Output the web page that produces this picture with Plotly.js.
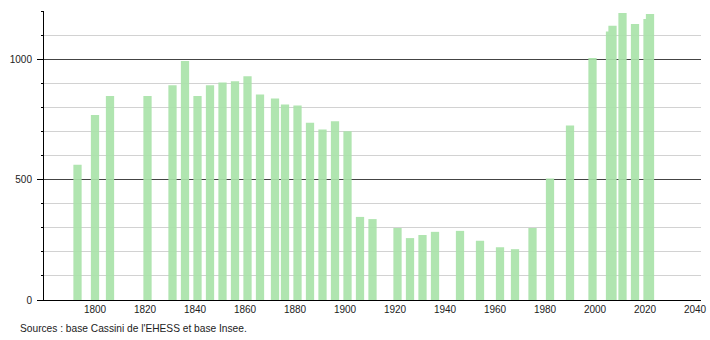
<!DOCTYPE html>
<html>
<head>
<meta charset="utf-8">
<script src="https://cdn.plot.ly/plotly-3.0.1.min.js"></script>
<style>html,body{margin:0;padding:0;background:#fff;}#chart{width:710px;height:340px;}</style>
</head>
<body>
<div id="chart"></div>
<script>
const years = [1793, 1800, 1806, 1821, 1831, 1836, 1841, 1846, 1851, 1856, 1861, 1866, 1872, 1876, 1881, 1886, 1891, 1896, 1901, 1906, 1911, 1921, 1926, 1931, 1936, 1946, 1954, 1962, 1968, 1975, 1982, 1990, 1999, 2006, 2007, 2011, 2016, 2021, 2022];
const population = [562, 768, 847, 847, 892, 992, 847, 892, 903, 908, 929, 853, 837, 812, 808, 736, 708, 742, 701, 345, 336, 299, 257, 270, 283, 287, 246, 219, 211, 299, 504, 725, 1005, 1115, 1139, 1192, 1146, 1167, 1188];
const xTicks = [1800, 1820, 1840, 1860, 1880, 1900, 1920, 1940, 1960, 1980, 2000, 2020, 2040];
const yMajorTicks = [0, 500, 1000];
const sourceText = "Sources : base Cassini de l'EHESS et base Insee.";

const trace = {
  type: 'bar',
  x: years,
  y: population,
  width: 3.3,
  marker: {color: 'rgb(170,227,170)', line: {width: 0}},
  opacity: 0.92,
  hoverinfo: 'x+y'
};

const layout = {
  width: 710,
  height: 340,
  margin: {l: 44, r: 9, t: 11, b: 40},
  paper_bgcolor: '#fff',
  plot_bgcolor: '#fff',
  showlegend: false,
  font: {family: '"Liberation Sans", Arial, sans-serif', size: 10, color: '#222'},
  xaxis: {
    range: [1779.6, 2042.4],
    tickvals: xTicks,
    ticks: '',
    showgrid: false,
    zeroline: false,
    showline: true,
    linecolor: '#000',
    linewidth: 1,
    tickfont: {size: 10, color: '#222'}
  },
  yaxis: {
    range: [0, 1200],
    tickvals: yMajorTicks,
    ticks: 'outside',
    ticklen: 6,
    tickcolor: '#000',
    tickwidth: 1,
    ticklabelstandoff: 3,
    showgrid: true,
    gridcolor: '#444',
    gridwidth: 1,
    zeroline: false,
    showline: true,
    linecolor: '#000',
    linewidth: 1,
    tickfont: {size: 10, color: '#222'},
    minor: {
      dtick: 100,
      ticks: 'outside',
      ticklen: 2,
      tickcolor: '#000',
      showgrid: true,
      gridcolor: '#d2d2d2',
      gridwidth: 1
    }
  },
  annotations: [{
    text: sourceText,
    xref: 'paper', yref: 'paper',
    x: -0.04, y: -0.1,
    xanchor: 'left', yanchor: 'middle',
    showarrow: false,
    font: {size: 10.2, color: '#222'}
  }]
};

Plotly.newPlot('chart', [trace], layout, {displayModeBar: false, staticPlot: true});
</script>
</body>
</html>
